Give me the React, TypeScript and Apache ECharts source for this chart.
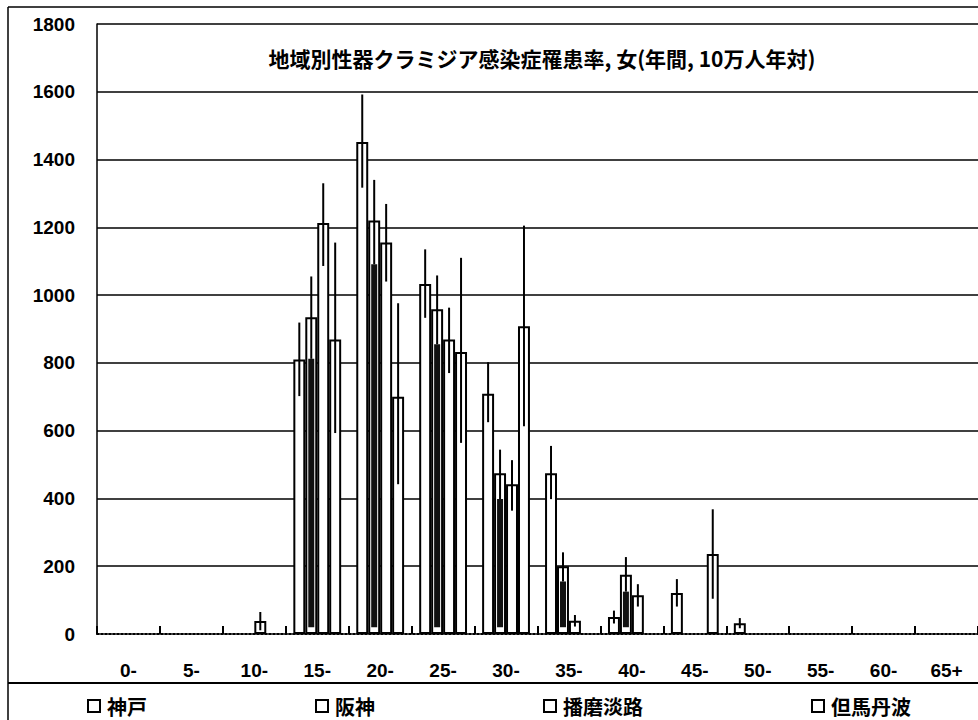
import React, { useEffect, useRef } from "react";
import * as echarts from "echarts";

const categories = ["0-", "5-", "10-", "15-", "20-", "25-", "30-", "35-", "40-", "45-", "50-", "55-", "60-", "65+"];
const seriesNames = ["神戸", "阪神", "播磨淡路", "但馬丹波"];

const kobe = [null, null, null, 810, 1452, 1033, 709, 474, 50, 121, 32, null, null, null];
const hanshin = [null, null, null, 935, 1220, 958, 474, 200, 175, null, null, null, null, null];
const harima = [null, null, 38, 1213, 1155, 869, 442, 39, 114, null, null, null, null, null];
const tajima = [null, null, null, 869, 700, 832, 908, null, null, 236, null, null, null, null];

const kobeLow = [null, null, null, 702, 1317, 933, 625, 398, 31, 81, 17, null, null, null];
const kobeHigh = [null, null, null, 919, 1592, 1135, 802, 555, 69, 162, 47, null, null, null];
const hanshinLow = [null, null, null, 812, 1091, 855, 398, 155, 125, null, null, null, null, null];
const hanshinHigh = [null, null, null, 1055, 1340, 1058, 544, 241, 227, null, null, null, null, null];
const harimaLow = [null, null, 11, 1086, 1040, 770, 364, 22, 81, null, null, null, null, null];
const harimaHigh = [null, null, 65, 1330, 1269, 963, 513, 56, 147, null, null, null, null, null];
const tajimaLow = [null, null, null, 593, 442, 564, 613, null, null, 104, null, null, null, null];
const tajimaHigh = [null, null, null, 1155, 976, 1110, 1205, null, null, 368, null, null, null, null];

const yTicks = { min: 0, max: 1800, interval: 200 };

const values = [kobe, hanshin, harima, tajima];
const lows = [kobeLow, hanshinLow, harimaLow, tajimaLow];
const highs = [kobeHigh, hanshinHigh, harimaHigh, tajimaHigh];

const CAT_GAP = 0.24;
const NUM_FONT = "'Liberation Sans', Arial, sans-serif";
const JP_FONT = "'Noto Sans CJK JP', sans-serif";

export default function App() {
  const ref = useRef<HTMLDivElement>(null);
  useEffect(() => {
    if (!ref.current) return;
    const chart = echarts.init(ref.current, null, { renderer: "svg" });

    const barSeries = seriesNames.map((name, k) => ({
      name,
      type: "bar",
      data: values[k].map((v) => (v == null ? "-" : v)),
      barGap: "0%",
      barCategoryGap: `${CAT_GAP * 100}%`,
      itemStyle: { color: "#ffffff", borderColor: "#000000", borderWidth: 2 },
      emphasis: { disabled: true },
      z: 2,
    }));

    const errSeries = seriesNames.map((name, k) => {
      const data: number[][] = [];
      lows[k].forEach((lo, i) => {
        const hi = highs[k][i];
        if (lo != null && hi != null) data.push([i, lo, hi]);
      });
      return {
        name: name + "_err",
        type: "custom",
        z: 5,
        silent: true,
        data,
        encode: { x: 0, y: [1, 2] },
        renderItem: (params: any, api: any) => {
          const i = api.value(0);
          const lo = api.value(1);
          const hi = api.value(2);
          const pLo = api.coord([i, lo]);
          const pHi = api.coord([i, hi]);
          const band = api.size([1, 0])[0];
          const bw = (band * (1 - CAT_GAP)) / 4;
          const x = pLo[0] + (k - 1.5) * bw;
          const children: any[] = [
            {
              type: "line",
              shape: { x1: x, y1: pLo[1], x2: x, y2: pHi[1] },
              style: { stroke: "#000", lineWidth: 2 },
            },
          ];
          if (k === 1) {
            const pBase = api.coord([i, 20]);
            children.push({
              type: "rect",
              shape: { x: x - 3, y: pLo[1], width: 6, height: Math.max(0, pBase[1] - pLo[1]) },
              style: { fill: "#111" },
            });
          }
          return { type: "group", children };
        },
      };
    });

    chart.setOption({
      animation: false,
      grid: { left: 97, top: 24, right: -1, bottom: 86, containLabel: false },
      legend: {
        data: seriesNames,
        left: 82,
        top: 691,
        icon: "rect",
        itemWidth: 12,
        itemHeight: 12,
        itemGap: 168,
        selectedMode: false,
        textStyle: { fontFamily: JP_FONT, fontSize: 20, fontWeight: "bold", color: "#000", padding: [0, 0, 0, 2] },
        itemStyle: { color: "#fff", borderColor: "#000", borderWidth: 2 },
      },
      xAxis: {
        type: "category",
        data: categories,
        axisLine: { show: true, lineStyle: { color: "#000", width: 2, type: "dotted" } },
        axisTick: {
          show: true,
          interval: 0,
          alignWithLabel: false,
          inside: true,
          length: 8,
          lineStyle: { color: "#000", width: 2 },
        },
        axisLabel: {
          margin: 27,
          interval: 0,
          color: "#000",
          fontFamily: NUM_FONT,
          fontSize: 19,
          fontWeight: "bold",
        },
        splitLine: { show: false },
      },
      yAxis: {
        type: "value",
        min: yTicks.min,
        max: yTicks.max,
        interval: yTicks.interval,
        axisLine: { show: true, lineStyle: { color: "#000", width: 1.5 } },
        axisTick: { show: false },
        axisLabel: {
          margin: 22,
          color: "#000",
          fontFamily: NUM_FONT,
          fontSize: 19,
          fontWeight: "bold",
          formatter: (v: number) => String(v),
        },
        splitLine: { show: true, showMinLine: false, lineStyle: { color: "#000", width: 1.5 } },
      },
      graphic: [
        {
          type: "text",
          x: 542,
          y: 58,
          style: {
            text: "地域別性器クラミジア感染症罹患率, 女(年間, 10万人年対)",
            font: `bold 21px ${JP_FONT}`,
            fill: "#000",
            align: "center",
            verticalAlign: "middle",
          },
          z: 10,
        },
        { type: "line", shape: { x1: 8, y1: 7, x2: 978, y2: 7 }, style: { stroke: "#000", lineWidth: 1.5 } },
        { type: "line", shape: { x1: 8, y1: 7, x2: 8, y2: 720 }, style: { stroke: "#000", lineWidth: 1.5 } },
        { type: "line", shape: { x1: 8, y1: 683, x2: 978, y2: 683 }, style: { stroke: "#000", lineWidth: 2 } },
      ],
      series: [...barSeries, ...errSeries],
    } as any);

    return () => chart.dispose();
  }, []);

  return (
    <div
      ref={ref}
      style={{ position: "absolute", left: 0, top: 0, width: 978, height: 720, background: "#fff" }}
    />
  );
}
